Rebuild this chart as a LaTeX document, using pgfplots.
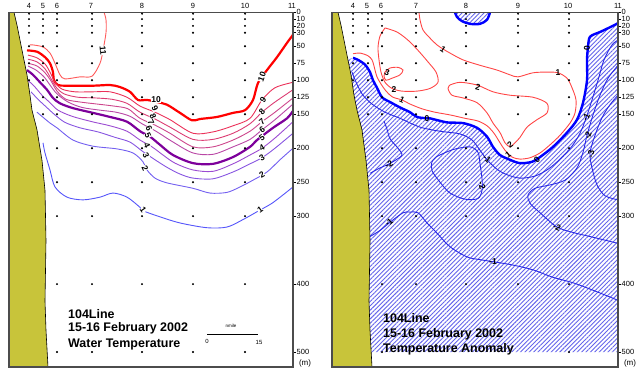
\documentclass[border=0pt]{standalone}
\usepackage{fontspec}
\setmainfont{Liberation Sans}
\usepackage{pgfplots}
\pgfplotsset{compat=1.18}
\usetikzlibrary{patterns.meta}
\definecolor{coast}{RGB}{200,196,58}
\definecolor{c11}{RGB}{255,90,90}
\definecolor{c10}{RGB}{255,0,0}
\definecolor{c9}{RGB}{235,50,90}
\definecolor{c8}{RGB}{220,60,115}
\definecolor{c7}{RGB}{205,70,140}
\definecolor{c6}{RGB}{185,70,165}
\definecolor{c5}{RGB}{125,0,155}
\definecolor{c4}{RGB}{155,75,210}
\definecolor{c3}{RGB}{135,85,225}
\definecolor{c2}{RGB}{115,95,240}
\definecolor{c1}{RGB}{85,85,250}
\definecolor{posc}{RGB}{255,70,70}
\definecolor{zeroc}{RGB}{0,0,255}
\definecolor{negc}{RGB}{40,40,230}
\definecolor{hatchc}{RGB}{100,100,235}
\pgfplotsset{panel/.style={anchor=north west, scale only axis, height=354.7bp,
  ymin=0, ymax=522, y dir=reverse, xmin=0, clip=false,
  axis line style={draw=black!70, line width=1.2bp},
  xtick pos=right, xticklabel pos=right, major x tick style={draw=none},
  ytick={0,10,20,30,50,75,100,125,150,200,250,300,400,500},
  ytick pos=right, yticklabel pos=right, tick align=outside, major tick length=2.5bp,
  major y tick style={black, line width=0.6bp},
  yticklabel style={font=\fontsize{7.5}{7.5}\selectfont, inner sep=1bp},
  xticklabel style={font=\fontsize{7.5}{8}\selectfont, inner sep=1.5bp},
  /pgf/number format/assume math mode=true,
  axis on top},
  thin line/.style={line width=0.9bp, smooth, tension=0.5},
  thick line/.style={line width=2.2bp, smooth, tension=0.5}}
\tikzset{cl/.style={font=\bfseries\fontsize{8.5}{8.5}\selectfont, inner sep=0.2bp},
  clw/.style={cl, fill=white},
  tb/.style={anchor=base west, inner sep=0pt, font=\bfseries\fontsize{12.5}{15}\selectfont}}
\begin{document}
\begin{tikzpicture}[x=1bp,y=1bp]
\useasboundingbox (0,0) rectangle (640,-379);
% ===== Left panel: water temperature =====
\begin{axis}[panel, at={(9bp,-12.3bp)}, width=284bp, xmax=284,
  xtick={20,34,48,82,133,184,236,283}, xticklabels={4,5,6,7,8,9,10,11}]
\addplot[fill=coast, draw=black, line width=0.6bp] coordinates {(0,0)(5,0)(8,19)(11,41)(14,63)(18,92)(21,122)(23,144)(28,173)(33,218)(36,262)(37,336)(36,425)(37,468)(39,522)(0,522)} -- cycle;
\addplot[c11, thin line] coordinates {(95,0)(97,11)(97,30)(94,56)(91,75)(83,94)(71,95)(56,98)(51,92)(46,75)(41,60)(34,51)(24,48)(21,48)};
\addplot[c10, thick line] coordinates {(18,56)(28,58)(36,66)(41,75)(44,88)(45,100)(49,107)(58,108)(84,108)(101,107)(111,110)(121,117)(129,129)(138,129)(148,132)(158,136)(171,148)(183,159)(191,157)(208,154)(224,148)(236,144)(244,129)(249,104)(258,85)(268,66)(278,45)(284,33)};
\addplot[c9, thin line] coordinates {(19,63)(28,67)(36,76)(41,88)(46,103)(53,113)(66,117)(84,117)(101,117)(118,125)(131,138)(146,147)(161,158)(184,178)(204,176)(224,167)(241,156)(253,129)(266,111)(284,103)};
\addplot[c8, thin line] coordinates {(19,69)(28,73)(36,83)(41,95)(47,110)(55,120)(69,125)(86,126)(103,128)(118,134)(131,147)(146,157)(161,169)(184,187)(204,187)(224,178)(241,164)(253,147)(266,132)(284,114)};
\addplot[c7, thin line] coordinates {(19,75)(28,79)(36,89)(42,101)(48,116)(57,128)(71,132)(88,135)(105,138)(119,142)(131,156)(146,166)(161,178)(184,198)(204,198)(224,188)(241,175)(253,161)(266,147)(284,126)};
\addplot[c6, thin line] coordinates {(19,79)(27,85)(35,95)(41,107)(48,120)(59,132)(73,140)(91,144)(107,147)(121,153)(133,164)(147,175)(163,190)(184,207)(204,209)(224,198)(241,187)(253,173)(266,158)(284,135)};
\addplot[c5, thick line] coordinates {(18,85)(24,92)(31,103)(38,114)(44,126)(51,134)(64,141)(84,148)(101,154)(118,161)(131,175)(141,183)(151,195)(164,210)(184,222)(204,223)(224,213)(241,198)(248,188)(264,170)(278,156)(284,145)};
\addplot[c4, thin line] coordinates {(19,100)(26,110)(33,122)(41,133)(49,144)(63,153)(83,161)(101,167)(118,175)(131,188)(143,198)(154,210)(166,222)(184,232)(204,234)(224,223)(241,210)(253,200)(266,185)(284,161)};
\addplot[c3, thin line] coordinates {(22,117)(29,128)(37,139)(46,151)(56,162)(71,170)(89,176)(106,184)(121,191)(133,204)(146,217)(159,229)(171,238)(184,244)(204,245)(224,235)(241,223)(253,214)(266,200)(284,178)};
\addplot[c2, thin line] coordinates {(28,147)(41,163)(48,170)(64,188)(84,197)(108,201)(124,207)(134,220)(138,232)(146,244)(158,251)(184,259)(201,266)(218,265)(231,257)(244,247)(258,235)(271,217)(284,200)};
\addplot[c1, thin line] coordinates {(34,192)(36,207)(41,232)(46,257)(58,272)(74,276)(91,272)(104,266)(118,272)(131,287)(134,292)(151,301)(171,310)(198,317)(218,316)(234,305)(251,291)(264,280)(284,257)};
\addplot[only marks, mark=*, mark size=0.8bp, black] coordinates {
(20,2)(20,10)(20,20)(20,30)(20,50)(20,75)(20,100)
(34,2)(34,10)(34,20)(34,30)(34,50)(34,75)(34,100)(34,125)(34,150)
(48,2)(48,10)(48,20)(48,30)(48,50)(48,75)(48,100)(48,125)(48,150)(48,200)(48,250)(48,300)(48,400)(48,500)
(83,2)(83,10)(83,20)(83,30)(83,50)(83,75)(83,100)(83,125)(83,150)(83,200)(83,250)(83,300)(83,400)(83,500)
(133,2)(133,10)(133,20)(133,30)(133,50)(133,75)(133,100)(133,125)(133,150)(133,200)(133,250)(133,300)(133,400)(133,500)
(184,2)(184,10)(184,20)(184,30)(184,50)(184,75)(184,100)(184,125)(184,150)(184,200)(184,250)(184,300)(184,400)(184,500)
(236,2)(236,10)(236,20)(236,30)(236,50)(236,75)(236,100)(236,125)(236,150)(236,200)(236,250)(236,300)(236,400)(236,500)};
\node[clw, rotate=-85] at (axis cs:94,56) {11};
\node[clw] at (axis cs:147,129) {10};
\node[clw, rotate=-65] at (axis cs:146,142) {9};
\node[clw, rotate=-65] at (axis cs:144,153) {8};
\node[clw, rotate=-65] at (axis cs:142,162) {7};
\node[clw, rotate=-65] at (axis cs:140,171) {6};
\node[clw, rotate=-65] at (axis cs:139,181) {5};
\node[clw, rotate=-65] at (axis cs:138,196) {4};
\node[clw, rotate=-65] at (axis cs:137,211) {3};
\node[clw, rotate=-65] at (axis cs:136,229) {2};
\node[clw, rotate=-55] at (axis cs:134,291) {1};
\node[clw, rotate=70] at (axis cs:253,95) {10};
\node[clw, rotate=55] at (axis cs:254,129) {9};
\node[clw, rotate=45] at (axis cs:253,147) {8};
\node[clw, rotate=40] at (axis cs:253,161) {7};
\node[clw, rotate=35] at (axis cs:253,173) {6};
\node[clw, rotate=35] at (axis cs:253,184) {5};
\node[clw, rotate=30] at (axis cs:253,200) {4};
\node[clw, rotate=30] at (axis cs:253,214) {3};
\node[clw, rotate=30] at (axis cs:253,239) {2};
\node[clw, rotate=35] at (axis cs:251,291) {1};
\node[tb] at (axis cs:59,450) {104Line};
\node[tb] at (axis cs:59,470) {15-16 February 2002};
\node[tb] at (axis cs:59,493) {Water Temperature};
\draw[line width=1.8bp] (axis cs:198,474) -- (axis cs:249,474);
\node[font=\fontsize{4.5}{5}\selectfont] at (axis cs:222,462) {nmile};
\node[font=\fontsize{6}{6}\selectfont] at (axis cs:198,485) {0};
\node[font=\fontsize{6}{6}\selectfont] at (axis cs:250,486) {15};
\node[font=\fontsize{8}{8}\selectfont] at (axis cs:296,516) {(m)};
\end{axis}
% ===== Right panel: temperature anomaly =====
\begin{axis}[panel, at={(332bp,-12.3bp)}, width=286bp, xmax=286,
  xtick={21,35,49,84,134,186,236,286}, xticklabels={4,5,6,7,8,9,10,11}]
\addplot[draw=none, pattern={Lines[angle=45,distance=3.1pt,line width=0.9pt]}, pattern color=hatchc] coordinates {(21,67)(26,70)(33,77)(38,88)(41,100)(45,111)(50,125)(58,132)(68,140)(78,147)(85,154)(95,156)(98,156)(115,162)(131,163)(145,170)(155,183)(161,198)(168,210)(178,217)(188,222)(200,220)(208,213)(221,198)(235,177)(245,158)(251,133)(255,100)(255,70)(256,51)(258,36)(268,29)(278,22)(286,16)(286,500)(38,500)(37,468)(36,425)(37,336)(36,262)(33,218)(28,173)(23,144)(21,122)(18,92)(15,70)} -- cycle;
\addplot[draw=none, pattern={Lines[angle=45,distance=3.1pt,line width=0.9pt]}, pattern color=hatchc] coordinates {(123,0)(125,7)(130,13)(138,17)(148,17)(155,11)(158,0)} -- cycle;
\addplot[fill=coast, draw=black, line width=0.6bp] coordinates {(0,0)(6,0)(9,19)(12,41)(15,63)(19,92)(22,122)(25,144)(30,173)(34,218)(37,262)(38,336)(37,425)(38,468)(40,522)(0,522)} -- cycle;
\addplot[posc, thin line] coordinates {(87,0)(88,11)(91,26)(98,38)(105,48)(111,54)(118,60)(131,70)(148,78)(165,85)(178,92)(186,95)(201,89)(215,88)(226,89)(235,97)(240,111)(244,129)(243,148)(238,163)(228,181)(218,195)(208,207)(198,214)(188,216)(180,213)(173,203)(168,192)(162,178)(155,167)(146,160)(133,156)(118,151)(103,147)(90,142)(78,135)(70,129)(61,125)(56,119)(51,110)(45,95)(42,79)(40,70)(36,64)(28,60)(21,61)};
\addplot[posc, thin line] coordinates {(118,107)(128,103)(145,107)(161,117)(178,122)(201,125)(215,134)(215,148)(205,158)(195,169)(188,184)(183,192)(178,198)(173,192)(168,177)(161,163)(155,148)(145,133)(131,126)(120,122)(116,112)(118,107)};
\addplot[posc, thin line] coordinates {(53,23)(48,35)(46,52)(47,70)(49,88)(53,103)(60,112)(70,116)(85,116)(98,112)(106,103)(104,88)(96,73)(86,56)(76,41)(65,29)(53,23)};
\addplot[posc, thin line] coordinates {(53,88)(58,82)(66,81)(71,85)(68,92)(60,97)(54,100)(52,94)(53,88)};
\addplot[zeroc, line width=2.4bp, smooth, tension=0.5] coordinates {(21,67)(26,70)(33,77)(38,88)(41,100)(45,111)(50,125)(58,132)(68,140)(78,147)(85,154)(95,156)(98,156)(115,162)(131,163)(145,170)(155,183)(161,198)(168,210)(178,217)(188,222)(200,220)(208,213)(221,198)(235,177)(245,158)(251,133)(255,100)(255,70)(256,51)(258,36)(268,29)(278,22)(286,16)};
\addplot[zeroc, line width=2.4bp, smooth, tension=0.5] coordinates {(123,0)(125,7)(130,13)(138,17)(148,17)(155,11)(158,0)};
\addplot[negc, thin line] coordinates {(20,88)(25,106)(31,122)(40,135)(53,147)(68,156)(88,169)(108,175)(128,179)(140,188)(148,203)(155,217)(165,231)(175,239)(188,244)(203,241)(216,231)(228,216)(240,197)(248,178)(254,156)(260,129)(266,100)(272,70)(280,48)(286,41)};
\addplot[negc, thin line] coordinates {(52,160)(55,172)(58,186)(66,200)(70,210)(63,218)(56,224)(48,229)(38,237)};
\addplot[negc, thin line] coordinates {(105,212)(121,202)(138,198)(146,206)(148,223)(150,245)(150,262)(146,274)(133,275)(118,266)(108,250)(100,233)(100,220)(105,212)};
\addplot[negc, thin line] coordinates {(38,330)(48,321)(58,309)(71,295)(78,294)(86,295)(95,310)(105,325)(118,345)(135,360)(148,364)(161,367)(181,372)(201,379)(221,390)(241,398)(261,409)(278,419)(286,424)};
\addplot[negc, thin line] coordinates {(286,340)(261,331)(241,324)(225,316)(208,295)(198,281)(196,269)(203,259)(218,254)(233,247)(245,229)(251,206)(255,181)(261,151)(268,122)(276,97)(286,78)};
\addplot[negc, thin line] coordinates {(286,276)(273,270)(265,254)(260,229)(258,207)(263,181)(270,155)(278,136)(286,122)};
\addplot[only marks, mark=*, mark size=0.8bp, black] coordinates {
(21,2)(21,10)(21,20)(21,30)(21,50)(21,75)(21,100)
(36,2)(36,10)(36,20)(36,30)(36,50)(36,75)(36,100)(36,125)(36,150)
(50,2)(50,10)(50,20)(50,30)(50,50)(50,75)(50,100)(50,125)(50,150)(50,200)(50,250)(50,300)(50,400)(50,500)
(84,2)(84,10)(84,20)(84,30)(84,50)(84,75)(84,100)(84,125)(84,150)(84,200)(84,250)(84,300)(84,400)
(134,2)(134,10)(134,20)(134,30)(134,50)(134,75)(134,100)(134,125)(134,150)(134,200)(134,250)(134,300)(134,400)
(186,2)(186,10)(186,20)(186,30)(186,50)(186,75)(186,100)(186,125)(186,150)(186,200)(186,250)(186,300)(186,400)
(237,2)(237,10)(237,20)(237,30)(237,50)(237,75)(237,100)(237,125)(237,150)(237,200)(237,250)(237,300)(237,400)(237,500)};
\node[cl, rotate=-35] at (axis cs:111,54) {1};
\node[cl] at (axis cs:226,89) {1};
\node[cl, rotate=-25] at (axis cs:70,129) {1};
\node[cl, rotate=35] at (axis cs:176,209) {1};
\node[cl] at (axis cs:62,114) {2};
\node[cl, rotate=-15] at (axis cs:146,110) {2};
\node[cl, rotate=35] at (axis cs:178,195) {2};
\node[cl, rotate=-20] at (axis cs:55,89) {3};
\node[cl] at (axis cs:95,156) {0};
\node[cl, rotate=90] at (axis cs:255,53) {0};
\node[cl, rotate=45] at (axis cs:205,217) {0};
\node[cl, rotate=-40] at (axis cs:155,216) {-1};
\node[cl, rotate=65] at (axis cs:254,154) {-1};
\node[cl, rotate=70] at (axis cs:256,181) {-2};
\node[cl, rotate=80] at (axis cs:259,209) {-3};
\node[cl, rotate=30] at (axis cs:57,224) {-2};
\node[cl, rotate=-75] at (axis cs:150,255) {-2};
\node[cl, rotate=40] at (axis cs:57,309) {-1};
\node[cl] at (axis cs:161,367) {-1};
\node[cl, rotate=-25] at (axis cs:225,316) {-2};
\node[tb] at (axis cs:51,457) {104Line};
\node[tb] at (axis cs:51,479) {15-16 February 2002};
\node[tb] at (axis cs:51,501) {Temperature Anomaly};
\node[font=\fontsize{8}{8}\selectfont] at (axis cs:298,516) {(m)};
\end{axis}
\end{tikzpicture}
\end{document}
